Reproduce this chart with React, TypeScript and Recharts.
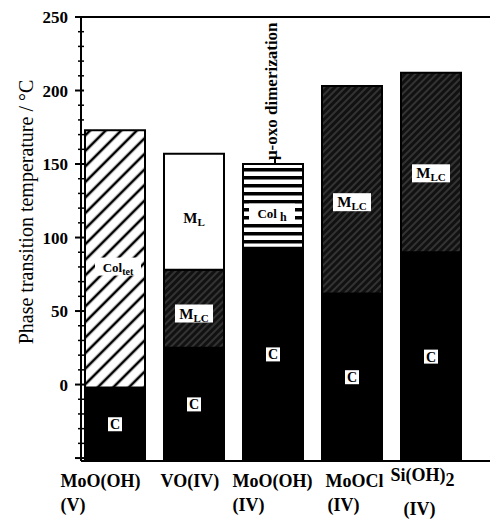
import { BarChart, Bar, XAxis, YAxis, ReferenceLine, Label } from 'recharts';

const compounds = ['MoO(OH)', 'VO(IV)', 'MoO(OH)', 'MoOCl', 'Si(OH)2'];
const valences = ['(V)', '', '(IV)', '(IV)', '(IV)'];

// phase ranges in °C as [from, to]; null where the phase is not seen
const crystal = [[-52, -2], [-52, 25], [-52, 93], [-52, 62], [-52, 90]];
const colTet = [[-2, 173], null, null, null, null];
const mesoLC = [null, [25, 78], null, [62, 203], [90, 212]];
const mesoL = [null, [78, 157], null, null, null];
const colH = [null, null, [93, 150], null, null];

const yTicks = [-50, -40, -30, -20, -10, 0, 10, 20, 30, 40, 50, 60, 70, 80, 90, 100, 110, 120, 130, 140, 150, 160, 170, 180, 190, 200, 210, 220, 230, 240, 250];

const data = compounds.map((c, i) => ({
  name: valences[i] ? `${c} ${valences[i]}` : c,
  crystal: crystal[i],
  colTet: colTet[i],
  mesoLC: mesoLC[i],
  mesoL: mesoL[i],
  colH: colH[i],
}));

const FONT = '"Liberation Serif", "Times New Roman", serif';

// where each category label starts, relative to the tick
const line1Shift = [-54, -33, -40, -26, -40];
const line2Shift = [-54, 0, -40, -24, -27];

function seg(props: any) {
  const vb = props.viewBox && props.viewBox.width != null ? props.viewBox : props;
  const x = Number(vb.x), y = Number(vb.y), w = Number(vb.width), h = Number(vb.height);
  const top = h < 0 ? y + h : y;
  return { cx: x + w / 2, top, h: Math.abs(h), ok: Math.abs(h) > 1 && !isNaN(x) };
}

function Tag({ cx, cy, main, sub, box, boxW = 38, mainSize = 15, subSize = 11, subDy = 3 }: any) {
  return (
    <g>
      {box && <rect x={cx - boxW / 2} y={cy - 9} width={boxW} height={18} fill="#fff" />}
      <text x={cx} y={cy + 5} textAnchor="middle" fontFamily={FONT} fontWeight="bold" fill="#000">
        <tspan fontSize={mainSize}>{main}</tspan>
        <tspan fontSize={subSize} dy={subDy}>{sub}</tspan>
      </text>
    </g>
  );
}

const crystalLabel = (props: any) => {
  const { cx, top, h, ok } = seg(props);
  if (!ok) return null;
  const cy = top + h / 2;
  return (
    <g>
      <rect x={cx - 7} y={cy - 7} width={14} height={14} fill="#fff" />
      <text x={cx} y={cy + 5} textAnchor="middle" fontSize={14} fontWeight="bold" fontFamily={FONT}>C</text>
    </g>
  );
};

const colTetLabel = (props: any) => {
  const { cx, top, h, ok } = seg(props);
  if (!ok) return null;
  return <Tag cx={cx + 3} cy={top + h * 0.53} main="Col" sub="tet" box boxW={46} mainSize={13} subSize={10} />;
};

const mesoLCLabel = (props: any) => {
  const { cx, top, h, ok } = seg(props);
  if (!ok) return null;
  return <Tag cx={cx} cy={top + h * 0.56} main="M" sub="LC" box boxW={38} />;
};

const mesoLLabel = (props: any) => {
  const { cx, top, h, ok } = seg(props);
  if (!ok) return null;
  return <Tag cx={cx} cy={top + h * 0.55} main="M" sub="L" />;
};

const colHLabel = (props: any) => {
  const { cx, top, h, ok } = seg(props);
  if (!ok) return null;
  const tx = cx + 4;
  const ty = top - 4;
  return (
    <g>
      <Tag cx={cx - 1} cy={top + h * 0.58} main="Col" sub=" h" box boxW={46} mainSize={13} subSize={12} />
      <line x1={cx + 2} x2={cx + 2} y1={top} y2={top - 5} stroke="#000" strokeWidth={2} />
      <text x={tx} y={ty} transform={`rotate(-90 ${tx} ${ty})`} fontSize={17} fontWeight="bold" fontFamily={FONT}>
        μ-oxo dimerization
      </text>
    </g>
  );
};

const YTick = (props: any) => {
  const { x, y, payload } = props;
  const v = payload.value;
  const major = v % 50 === 0;
  return (
    <g>
      <line x1={x - (major ? 6 : 3)} x2={x + 3} y1={y} y2={y} stroke="#000" strokeWidth={major ? 2 : 1.5} />
      {major && v >= 0 && (
        <text x={x - 13} y={y} dy={6} textAnchor="end" fontSize={17} fontWeight="bold" fontFamily={FONT}>{v}</text>
      )}
    </g>
  );
};

const XTick = (props: any) => {
  const { x, y, payload } = props;
  const i = payload.index;
  const name = compounds[i];
  const m = name.match(/^(.*?)(\d)$/);
  const x1 = x + line1Shift[i];
  const x2 = x + line2Shift[i];
  return (
    <g fontFamily={FONT} fontWeight="bold" fontSize={18} fill="#000">
      {m ? (
        <text x={x1} y={y + 20}>
          {m[1]}
          <tspan dy={5}>{m[2]}</tspan>
        </text>
      ) : (
        <text x={x1} y={y + 26}>{name}</text>
      )}
      {valences[i] && (
        <text x={x2} y={y + (m ? 54 : 50)}>{valences[i]}</text>
      )}
    </g>
  );
};

const YTitle = (props: any) => {
  const vb = props.viewBox;
  const cx = vb.x + 33;
  const cy = vb.y + 195;
  return (
    <text x={cx} y={cy} transform={`rotate(-90 ${cx} ${cy})`} textAnchor="middle" fontSize={20} fontFamily={FONT}>
      Phase transition temperature / °C
    </text>
  );
};

export default function App() {
  return (
    <div style={{ position: 'absolute', left: 0, top: 0, width: 491, height: 520, background: '#fff' }}>
      <BarChart
        width={491}
        height={520}
        data={data}
        margin={{ top: 17, right: 1, left: 0, bottom: 0 }}
        barSize={60}
        barGap={-60}
      >
        <defs>
          <pattern id="colTetFill" patternUnits="userSpaceOnUse" width={11} height={11} patternTransform="rotate(45)">
            <rect width={11} height={11} fill="#fff" />
            <line x1={2} y1={0} x2={2} y2={11} stroke="#000" strokeWidth={2.6} />
          </pattern>
          <pattern id="mesoLCFill" patternUnits="userSpaceOnUse" width={5} height={5} patternTransform="rotate(45)">
            <rect width={5} height={5} fill="#111" />
            <line x1={1} y1={0} x2={1} y2={5} stroke="#5c5c5c" strokeWidth={0.9} />
          </pattern>
          <pattern id="colHFill" patternUnits="userSpaceOnUse" width={8} height={8}>
            <rect width={8} height={8} fill="#fff" />
            <rect y={0} width={8} height={3.5} fill="#000" />
          </pattern>
        </defs>
        <XAxis
          dataKey="name"
          height={59}
          interval={0}
          tickLine={false}
          tickSize={0}
          tickMargin={0}
          tick={<XTick />}
          padding={{ left: -6, right: 20 }}
          axisLine={{ stroke: '#000', strokeWidth: 2 }}
        />
        <YAxis
          width={81}
          domain={[-52, 250]}
          ticks={yTicks}
          interval={0}
          tickLine={false}
          tickSize={0}
          tickMargin={0}
          tick={<YTick />}
          axisLine={{ stroke: '#000', strokeWidth: 2 }}
          allowDataOverflow
          label={<Label content={YTitle} />}
        />
        <YAxis
          yAxisId="frame"
          orientation="right"
          width={0}
          domain={[-52, 250]}
          tick={false}
          tickLine={false}
          axisLine={{ stroke: '#000', strokeWidth: 2 }}
        />
        <ReferenceLine y={250} stroke="#000" strokeWidth={2} />
        <Bar dataKey="crystal" fill="#000" stroke="#000" strokeWidth={2} isAnimationActive={false} label={crystalLabel} />
        <Bar dataKey="colTet" fill="url(#colTetFill)" stroke="#000" strokeWidth={2} isAnimationActive={false} label={colTetLabel} />
        <Bar dataKey="mesoLC" fill="url(#mesoLCFill)" stroke="#000" strokeWidth={2} isAnimationActive={false} label={mesoLCLabel} />
        <Bar dataKey="mesoL" fill="#fff" stroke="#000" strokeWidth={2} isAnimationActive={false} label={mesoLLabel} />
        <Bar dataKey="colH" fill="url(#colHFill)" stroke="#000" strokeWidth={2} isAnimationActive={false} label={colHLabel} />
      </BarChart>
    </div>
  );
}
